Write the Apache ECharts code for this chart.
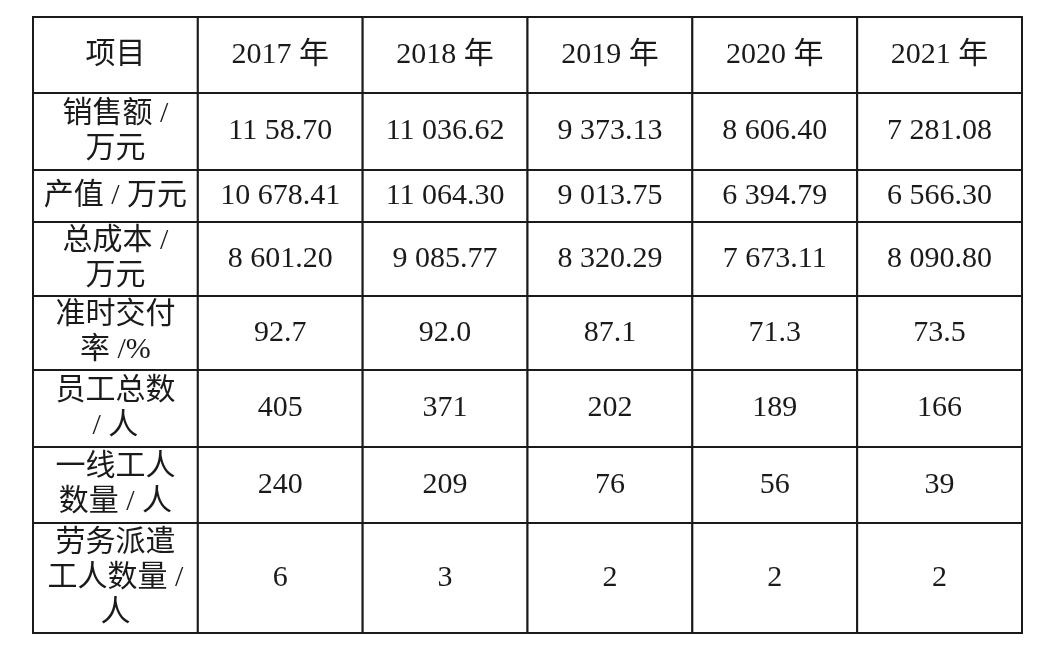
<!DOCTYPE html>
<html><head><meta charset="utf-8">
<script src="https://cdn.jsdelivr.net/npm/echarts@6/dist/echarts.min.js"></script>
<style>html,body{margin:0;background:#fff}#c{width:1056px;height:653px}</style>
</head><body><div id="c"></div>
<script>
const header = ['项目','2017 年','2018 年','2019 年','2020 年','2021 年'];
const rowLabels = ['销售额 /\n万元','产值 / 万元','总成本 /\n万元','准时交付\n率 /%','员工总数\n/ 人','一线工人\n数量 / 人','劳务派遣\n工人数量 /\n人'];
const sales = ['11 58.70','11 036.62','9 373.13','8 606.40','7 281.08'];
const output = ['10 678.41','11 064.30','9 013.75','6 394.79','6 566.30'];
const totalCost = ['8 601.20','9 085.77','8 320.29','7 673.11','8 090.80'];
const onTimeRate = ['92.7','92.0','87.1','71.3','73.5'];
const employees = ['405','371','202','189','166'];
const frontline = ['240','209','76','56','39'];
const dispatched = ['6','3','2','2','2'];
// layout: row heights (px-like units)
const rowHeights = [76,77,52,74,74,77,76,110];
const tops=[0]; rowHeights.forEach((h,i)=>tops.push(tops[i]+h));
const rows=[header].concat([sales,output,totalCost,onTimeRate,employees,frontline,dispatched].map((r,i)=>[rowLabels[i]].concat(r)));
const data=[];
rows.forEach((r,ri)=>r.forEach((t,ci)=>data.push([ci,ri,t])));
const chart=echarts.init(document.getElementById('c'));
chart.setOption({
  animation:false,
  grid:{left:33,right:34,top:17,bottom:20},
  xAxis:{type:'value',min:0,max:6,show:false},
  yAxis:{type:'value',min:0,max:tops[tops.length-1],inverse:true,show:false},
  series:[{type:'custom',data:data,renderItem:function(params,api){
    const c=api.value(0), r=api.value(1), t=data[params.dataIndex][2];
    const p0=api.coord([c,tops[r]]), p1=api.coord([c+1,tops[r+1]]);
    return {type:'group',children:[
      {type:'rect',shape:{x:p0[0],y:p0[1],width:p1[0]-p0[0],height:p1[1]-p0[1]},style:{fill:'#fff',stroke:'#1a1a1a',lineWidth:2}},
      {type:'text',style:{x:(p0[0]+p1[0])/2,y:(p0[1]+p1[1])/2,text:t,align:'center',verticalAlign:'middle',
        font:'30px "Liberation Serif","Noto Sans CJK SC",serif',lineHeight:35,fill:'#1a1a1a'}}
    ]};
  }}]
});
</script></body></html>
